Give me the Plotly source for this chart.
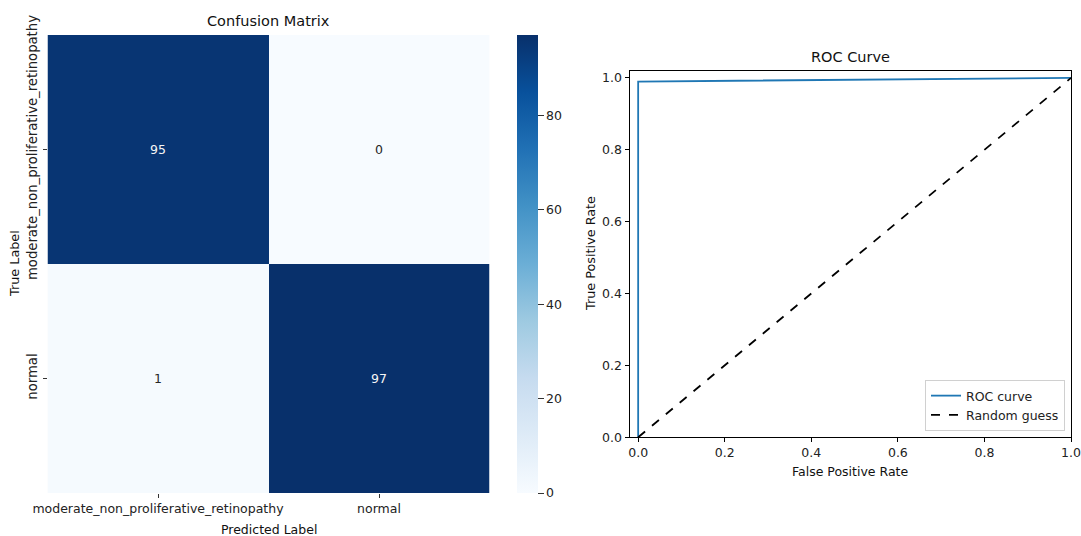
import plotly.graph_objects as go

# Confusion matrix data
class_names = ["moderate_non_proliferative_retinopathy", "normal"]
cm_values = [[95, 0],
             [1, 97]]

# ROC curve points
fpr = [0.0, 0.0, 1.0]
tpr = [0.0, 0.9898, 1.0]
chance_x = [0.0, 1.0]
chance_y = [0.0, 1.0]

blues = ["#f7fbff", "#deebf7", "#c6dbef", "#9ecae1", "#6baed6",
         "#4292c6", "#2171b5", "#08519c", "#08306b"]
blues_scale = [[i / (len(blues) - 1), c] for i, c in enumerate(blues)]

FONT = "DejaVu Sans"
W, H = 1081, 536

def px_x(p):
    return p / W

def px_y(p):
    return 1 - p / H

fig = go.Figure()

zmax = max(max(r) for r in cm_values)
zmin = min(min(r) for r in cm_values)

fig.add_trace(go.Heatmap(
    z=cm_values, x=class_names, y=class_names,
    colorscale=blues_scale, zmin=zmin, zmax=zmax,
    xaxis="x", yaxis="y", hoverinfo="z",
    colorbar=dict(
        x=px_x(517), xanchor="left", xref="paper",
        y=px_y(493), yanchor="bottom", yref="paper",
        len=(493 - 35) / H, lenmode="fraction",
        thickness=21, thicknessmode="pixels",
        outlinewidth=0, xpad=0, ypad=0,
        tickvals=[0, 20, 40, 60, 80],
        ticks="outside", ticklen=6, tickcolor="#333",
        tickfont=dict(family=FONT, size=12.5, color="#222"),
    ),
))

# cell value labels
for i, row in enumerate(cm_values):
    for j, v in enumerate(row):
        frac = (v - zmin) / (zmax - zmin)
        fig.add_annotation(
            x=class_names[j], y=class_names[i], xref="x", yref="y",
            text=str(v), showarrow=False,
            font=dict(family=FONT, size=12.5,
                      color="#f5f5f5" if frac > 0.5 else "#262626"),
        )

fig.add_trace(go.Scatter(
    x=fpr, y=tpr, mode="lines", name="ROC curve",
    line=dict(color="#1f77b4", width=1.8),
    xaxis="x2", yaxis="y2",
))
fig.add_trace(go.Scatter(
    x=chance_x, y=chance_y, mode="lines", name="Random guess",
    line=dict(color="black", width=1.8, dash="dash"),
    xaxis="x2", yaxis="y2",
))

tick_font = dict(family=FONT, size=12.5, color="#222")
ticks01 = [0, 0.2, 0.4, 0.6, 0.8, 1.0]
ticks01_text = ["0.0", "0.2", "0.4", "0.6", "0.8", "1.0"]

fig.update_layout(
    width=W, height=H,
    margin=dict(l=0, r=0, t=0, b=0, autoexpand=False),
    paper_bgcolor="white", plot_bgcolor="white",
    font=dict(family=FONT, size=12.5, color="#222"),
    xaxis=dict(
        domain=[px_x(47.5), px_x(489.5)], anchor="y",
        ticks="outside", ticklen=4, tickcolor="#333",
        tickfont=tick_font, showgrid=False, zeroline=False,
        showline=False, automargin=False,
    ),
    yaxis=dict(
        domain=[px_y(493), px_y(35)], anchor="x",
        autorange="reversed",
        ticks="outside", ticklen=4, tickcolor="#333",
        tickangle=-90,
        tickfont=dict(family=FONT, size=13.2, color="#222"),
        showgrid=False, zeroline=False, showline=False, automargin=False,
    ),
    xaxis2=dict(
        domain=[px_x(629.5), px_x(1071)], anchor="y2",
        range=[-0.02, 1.0],
        tickvals=ticks01, ticktext=ticks01_text,
        ticks="outside", ticklen=4, tickcolor="black",
        tickfont=tick_font, showgrid=False, zeroline=False,
        showline=True, linecolor="black", linewidth=1, mirror=True,
        automargin=False,
    ),
    yaxis2=dict(
        domain=[px_y(437.3), px_y(70.7)], anchor="x2",
        range=[0.0, 1.02],
        tickvals=ticks01, ticktext=ticks01_text,
        ticks="outside", ticklen=4, tickcolor="black",
        tickfont=tick_font, showgrid=False, zeroline=False,
        showline=True, linecolor="black", linewidth=1, mirror=True,
        automargin=False,
    ),
    legend=dict(
        x=px_x(1065), xanchor="right", xref="paper",
        y=px_y(431), yanchor="bottom", yref="paper",
        bgcolor="rgba(255,255,255,0.8)", bordercolor="#d0d0d0", borderwidth=1,
        font=dict(family=FONT, size=12.5, color="#222"),
        tracegroupgap=0, itemwidth=30,
    ),
    showlegend=True,
)

# titles and axis labels
labels = [
    ("Confusion Matrix", 268.5, 21, 14.5, 0),
    ("ROC Curve", 850, 57, 14.5, 0),
    ("Predicted Label", 268.5, 529, 12.5, 0),
    ("True Label", 14, 264, 12.8, -90),
    ("False Positive Rate", 850, 471, 12.5, 0),
    ("True Positive Rate", 590, 254, 12.8, -90),
]
for text, x, y, size, angle in labels:
    fig.add_annotation(text=text, xref="paper", yref="paper",
                       x=px_x(x), y=px_y(y), showarrow=False, textangle=angle,
                       xanchor="center", yanchor="middle",
                       font=dict(family=FONT, size=size, color="#111"))

fig.write_html("out.html")
